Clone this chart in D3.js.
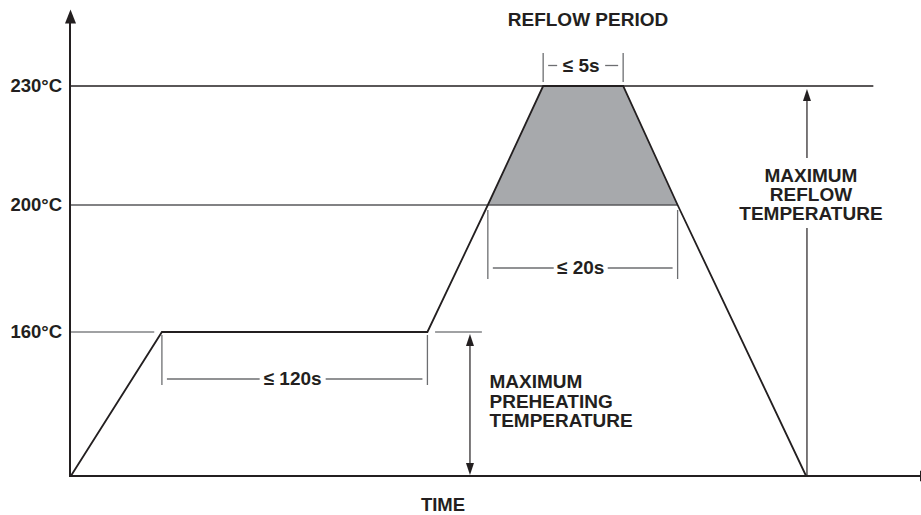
<!DOCTYPE html>
<html>
<head>
<meta charset="utf-8">
<script src="https://cdn.jsdelivr.net/npm/d3@7"></script>
<style>
  html, body { margin: 0; padding: 0; background: #fff; }
  svg { display: block; }
  text { font-family: "Liberation Sans", Arial, Helvetica, sans-serif; font-weight: bold; fill: #231f20; }
</style>
</head>
<body>
<svg id="chart" width="921" height="515"></svg>
<script>
// ---- data (schematic reflow profile; time in arbitrary schematic units) ----
const tempLevels = [160, 200, 230];
const tempLabels = ["160°C", "200°C", "230°C"];
const profileTime = [0.1, 10.8, 42.0, 49.1, 55.6, 65.0, 71.4, 86.5];
const profileTemp = [25, 160, 160, 200, 230, 230, 200, 25];
const ambientTemp = 25;
const axisTopTemp = 249;
const timeMax = 100;
// dimension annotations
const dimLabels = ["≤ 120s", "≤ 20s", "≤ 5s"];
const dimStart = [10.8, 49.1, 55.6];
const dimEnd = [42.0, 71.4, 65.0];
const textLabels = ["REFLOW PERIOD", "TIME"];
const preheatLabel = ["MAXIMUM", "PREHEATING", "TEMPERATURE"];
const reflowLabel = ["MAXIMUM", "REFLOW", "TEMPERATURE"];

const svg = d3.select("#chart");
const black = "#231f20", grayLine = "#58595b", lightLine = "#808285", fillGray = "#a7a9ac";
const fs = "19px";

const x = d3.scaleLinear().domain([0, timeMax]).range([70, 921]);
const y = d3.scaleLinear().domain([ambientTemp, 160, 200, 230, axisTopTemp]).range([476, 332, 205, 86, 10]);

const profile = profileTime.map((t, i) => ({ t, T: profileTemp[i] }));

// ---- reflow shaded area (>= 200°C) ----
const reflowPts = profile.filter(d => d.T >= 200);
svg.append("path")
  .attr("d", d3.line().x(d => x(d.t)).y(d => y(d.T))(reflowPts) + "Z")
  .attr("fill", fillGray).attr("stroke", "none");

// ---- temperature reference lines ----
svg.append("line").attr("x1", x(0)).attr("x2", x(94.4)).attr("y1", y(230)).attr("y2", y(230))
  .attr("stroke", black).attr("stroke-width", 1.3);
svg.append("line").attr("x1", x(0)).attr("x2", x(71.4)).attr("y1", y(200)).attr("y2", y(200))
  .attr("stroke", grayLine).attr("stroke-width", 1.5);
svg.append("line").attr("x1", x(0)).attr("x2", x(9.9)).attr("y1", y(160)).attr("y2", y(160))
  .attr("stroke", lightLine).attr("stroke-width", 1.5);
svg.append("line").attr("x1", x(42.9)).attr("x2", x(48.4)).attr("y1", y(160)).attr("y2", y(160))
  .attr("stroke", lightLine).attr("stroke-width", 1.5);

// ---- profile line ----
svg.append("path")
  .attr("d", d3.line().x(d => x(d.t)).y(d => y(d.T))(profile))
  .attr("fill", "none").attr("stroke", black).attr("stroke-width", 1.8).attr("stroke-linejoin", "miter");

// ---- axes ----
const yAxis = d3.axisLeft(y).tickValues(tempLevels).tickSize(0).tickPadding(8)
  .tickFormat((d, i) => tempLabels[i]);
const gy = svg.append("g").attr("transform", `translate(${x(0)},0)`).call(yAxis);
gy.select(".domain").remove();
gy.selectAll("text").attr("font-size", "18.5px").attr("font-family", null).attr("fill", black);

svg.append("line").attr("x1", x(0)).attr("x2", x(0)).attr("y1", y(ambientTemp) + 1).attr("y2", y(axisTopTemp) + 12)
  .attr("stroke", black).attr("stroke-width", 2);
svg.append("line").attr("x1", x(0) - 1).attr("x2", 921).attr("y1", y(ambientTemp)).attr("y2", y(ambientTemp))
  .attr("stroke", black).attr("stroke-width", 2);

function arrowHead(tx, ty, dir, len, w) {
  let pts;
  if (dir === "up") pts = [[tx, ty], [tx - w / 2, ty + len], [tx + w / 2, ty + len]];
  else if (dir === "down") pts = [[tx, ty], [tx - w / 2, ty - len], [tx + w / 2, ty - len]];
  else pts = [[tx, ty], [tx - len, ty - w / 2], [tx - len, ty + w / 2]];
  svg.append("path").attr("d", "M" + pts.map(p => p.join(",")).join("L") + "Z").attr("fill", black);
}
arrowHead(x(0) + 0.5, y(axisTopTemp) - 0.5, "up", 14, 11);
arrowHead(934, y(ambientTemp), "right", 14, 11);

// ---- preheat double arrow ----
const xPre = x(47.0);
svg.append("line").attr("x1", xPre).attr("x2", xPre).attr("y1", y(160) + 8).attr("y2", y(ambientTemp) - 8)
  .attr("stroke", black).attr("stroke-width", 1.2);
arrowHead(xPre, y(160) + 2, "up", 12, 8);
arrowHead(xPre, y(ambientTemp) - 1, "down", 12, 8);

const preText = svg.append("text").attr("x", x(49.3)).attr("y", 388).attr("font-size", fs);
preheatLabel.forEach((s, i) => preText.append("tspan").attr("x", x(49.3)).attr("y", 388 + i * 19.5).text(s));

// ---- reflow arrow (broken by label) ----
const xRef = x(86.6);
svg.append("line").attr("x1", xRef).attr("x2", xRef).attr("y1", y(230) + 12).attr("y2", 158)
  .attr("stroke", black).attr("stroke-width", 1.2);
svg.append("line").attr("x1", xRef).attr("x2", xRef).attr("y1", 228).attr("y2", y(ambientTemp))
  .attr("stroke", black).attr("stroke-width", 1.2);
arrowHead(xRef, y(230) + 3, "up", 12, 8);
const refText = svg.append("text").attr("text-anchor", "middle").attr("font-size", fs);
reflowLabel.forEach((s, i) => refText.append("tspan").attr("x", xRef + 4).attr("y", 182 + i * 19).text(s));

// ---- dimension markers ----
const dimTickTop = [335, 210, 53];
const dimTickBot = [385, 279, 82];
const dimLineY = [379, 268, 65.5];
const dimGap = [33, 27, 24];
const dimColor = "#6d6e71";
dimLabels.forEach((lab, i) => {
  const x0 = x(dimStart[i]), x1 = x(dimEnd[i]);
  const xm = (x0 + x1) / 2 - 2;
  const g = svg.append("g");
  [x0, x1].forEach(xx => g.append("line").attr("x1", xx).attr("x2", xx)
    .attr("y1", dimTickTop[i]).attr("y2", dimTickBot[i]).attr("stroke", dimColor).attr("stroke-width", 1.3));
  g.append("line").attr("x1", x0 + 5).attr("x2", xm - dimGap[i]).attr("y1", dimLineY[i]).attr("y2", dimLineY[i])
    .attr("stroke", dimColor).attr("stroke-width", 1.3);
  g.append("line").attr("x1", xm + dimGap[i]).attr("x2", x1 - 5).attr("y1", dimLineY[i]).attr("y2", dimLineY[i])
    .attr("stroke", dimColor).attr("stroke-width", 1.3);
  g.append("text").attr("x", xm).attr("y", dimLineY[i] + 6).attr("text-anchor", "middle")
    .attr("font-size", fs).text(lab);
});

// ---- titles ----
svg.append("text").attr("x", 588).attr("y", 26).attr("text-anchor", "middle").attr("font-size", fs).text(textLabels[0]);
svg.append("text").attr("x", 443).attr("y", 511).attr("text-anchor", "middle").attr("font-size", "18.5px").text(textLabels[1]);
</script>
</body>
</html>
